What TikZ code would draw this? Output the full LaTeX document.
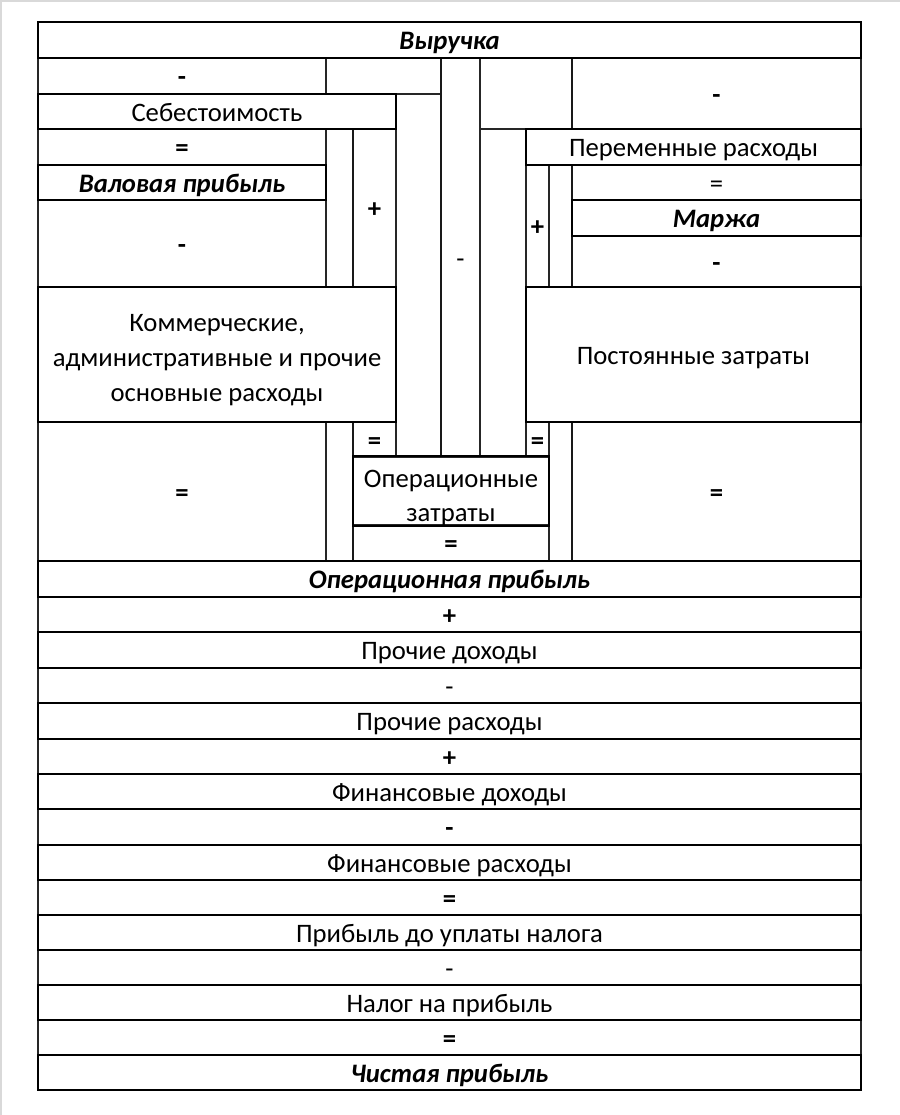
\documentclass[tikz,border=0pt]{standalone}
\usepackage{fontspec}
\setmainfont{Carlito}
\tikzset{
  cellbase/.style={draw, inner sep=0pt, outer sep=0pt,
    font=\fontsize{20}{26.2}\selectfont, text height=14.9pt, text depth=0.5pt},
  multi/.style={text height=, text depth=},
  thincell/.style={cellbase, line width=0.8pt, draw=black!85},
  thickbox/.style={cellbase, line width=2pt, draw=black},
  bi/.style={font=\fontsize{20}{26.2}\selectfont\bfseries\itshape},
  medline/.style={line width=1.4pt, draw=black!90},
  framegray/.style={line width=1.5pt, draw=black!15}
}
% style, name, x1, y1, x2, y2, text  (pixel coordinates, y downwards)
\newcommand\tcell[7]{%
  \node[#1, minimum width={(#5-#3)*0.75pt}, minimum height={(#6-#4)*0.75pt}]
    (#2) at ({(#3+#5)/2*0.75pt},{-(#4+#6)/2*0.75pt}) {#7};}
\newcommand\lines[2]{\raisebox{#1}[\height][\depth]{\begin{tabular}{@{}c@{}}#2\end{tabular}}}
\begin{document}
\begin{tikzpicture}
\useasboundingbox (0,0) rectangle ({900*0.75pt},{-1115*0.75pt});
\coordinate (fa) at ({0.6pt},{-1115*0.75pt});
\coordinate (fb) at ({0.6pt},{-0.6pt});
\coordinate (fc) at ({900*0.75pt},{-0.6pt});
\draw[framegray] (fa) -- (fb) -- (fc);

% ---------- thin grid cells (upper block) ----------
\tcell{thincell}{mL1}{38}{58}{326}{94}{\textbf{-}}
\tcell{thincell}{eA}{326}{58}{441}{94}{}
\tcell{thincell}{colL}{396}{94}{441}{457}{}
\tcell{thincell}{ctr}{441}{58}{480}{457}{-}
\tcell{thincell}{eB}{480}{58}{572}{129}{}
\tcell{thincell}{colR}{480}{129}{526}{457}{}
\tcell{thincell}{mR1}{572}{58}{861}{129}{\textbf{-}}
\tcell{thincell}{qL1}{38}{129}{326}{165}{\textbf{=}}
\tcell{thincell}{colL2}{326}{129}{353}{287}{}
\tcell{thincell}{pL}{353}{129}{396}{287}{\textbf{+}}
\tcell{thincell}{mL2}{38}{200}{326}{287}{\textbf{-}}
\tcell{thincell}{pR}{526}{165}{549}{287}{\textbf{+}}
\tcell{thincell}{colR2}{549}{165}{572}{287}{}
\tcell{thincell}{qR1}{572}{165}{861}{200}{=}
\tcell{thincell}{mR2}{572}{236}{861}{287}{\textbf{-}}
\tcell{thincell}{qL2}{38}{422}{326}{561}{\textbf{=}}
\tcell{thincell}{colL3}{326}{422}{353}{561}{}
\tcell{thincell}{qL3}{353}{422}{396}{457}{\textbf{=}}
\tcell{thincell}{qR3}{526}{422}{549}{457}{\textbf{=}}
\tcell{thincell}{colR3}{549}{422}{572}{561}{}
\tcell{thincell}{qR2}{572}{422}{861}{561}{\textbf{=}}
\tcell{thincell}{qC}{353}{525}{549}{561}{\textbf{=}}

% ---------- thin cells (lower block) ----------
\tcell{thincell}{s1}{38}{597}{861}{632}{\textbf{+}}
\tcell{thincell}{s2}{38}{668}{861}{703}{-}
\tcell{thincell}{s3}{38}{739}{861}{774}{\textbf{+}}
\tcell{thincell}{s4}{38}{809}{861}{845}{\textbf{-}}
\tcell{thincell}{s5}{38}{880}{861}{915}{\textbf{=}}
\tcell{thincell}{s6}{38}{950}{861}{985}{-}
\tcell{thincell}{s7}{38}{1020}{861}{1055}{\textbf{=}}

% ---------- medium vertical borders ----------
\draw[medline] (ctr.north west) -- (ctr.south west);
\draw[medline] (pL.north west) -- (pL.south west);
\draw[medline] (qL3.north west) -- (qC.south west);
\draw[medline] (mR1.north west) -- (mR1.south west);
\draw[medline] (mR2.north west) -- (mR2.south west);
\draw[medline] (qR1.north west) -- (qR1.south west);
\draw[medline] (qR2.north west) -- (qR2.south west);

% ---------- thick boxes ----------
\tcell{thickbox,bi}{rev}{38}{22}{861}{58}{Выручка}
\tcell{thickbox}{cogs}{38}{94}{396}{129}{Себестоимость}
\tcell{thickbox,bi}{gross}{38}{165}{326}{200}{Валовая прибыль}
\tcell{thickbox,multi}{sga}{38}{287}{396}{422}{\lines{-3.8pt}{Коммерческие,\\административные и прочие\\основные расходы}}
\tcell{thickbox,multi}{opex}{353}{457}{549}{525}{\lines{-4.9pt}{Операционные\\затраты}}
\tcell{thickbox}{var}{526}{129}{861}{165}{Переменные расходы}
\tcell{thickbox,bi}{margin}{572}{200}{861}{236}{Маржа}
\tcell{thickbox}{fixed}{526}{287}{861}{422}{Постоянные затраты}
\tcell{thickbox,bi}{opprofit}{38}{561}{861}{597}{Операционная прибыль}
\tcell{thickbox}{oinc}{38}{632}{861}{668}{Прочие доходы}
\tcell{thickbox}{oexp}{38}{703}{861}{739}{Прочие расходы}
\tcell{thickbox}{finc}{38}{774}{861}{809}{Финансовые доходы}
\tcell{thickbox}{fexp}{38}{845}{861}{880}{Финансовые расходы}
\tcell{thickbox}{ebt}{38}{915}{861}{950}{Прибыль до уплаты налога}
\tcell{thickbox}{tax}{38}{985}{861}{1020}{Налог на прибыль}
\tcell{thickbox,bi}{net}{38}{1055}{861}{1090}{Чистая прибыль}
\end{tikzpicture}
\end{document}
